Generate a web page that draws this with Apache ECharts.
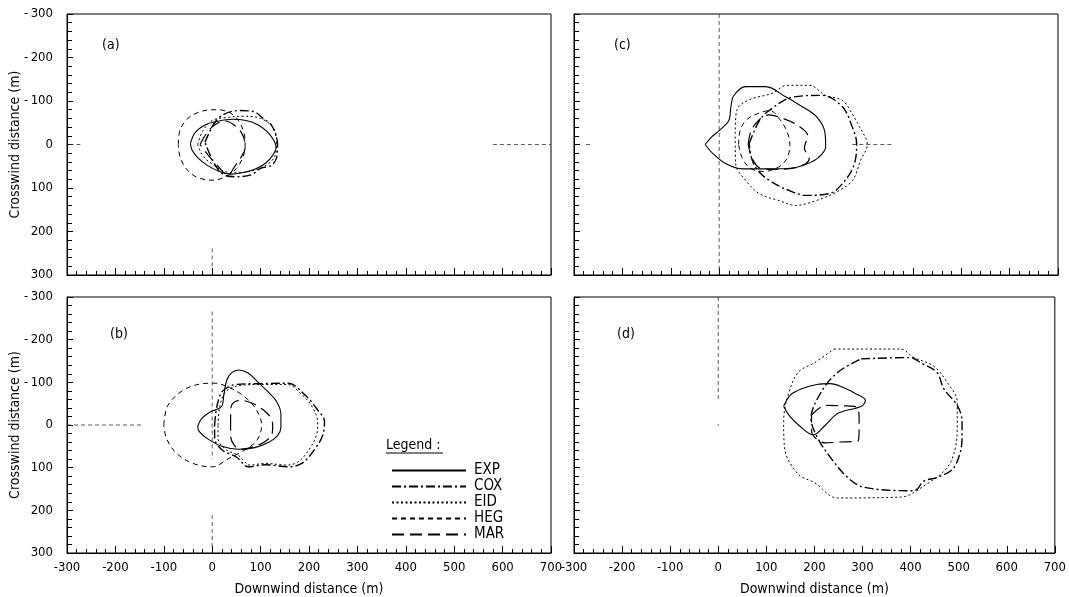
<!DOCTYPE html>
<html><head><meta charset="utf-8">
<script src="https://cdn.jsdelivr.net/npm/echarts@6/dist/echarts.min.js"></script>
<style>html,body{margin:0;padding:0;background:#fff}#c{width:1069px;height:597px}</style>
</head><body><div id="c"></div>
<script>
// ---- data (downwind x, crosswind y in metres) ----
const models = ['EXP', 'COX', 'EID', 'HEG', 'MAR'];
const panelLabels = ['(a)', '(b)', '(c)', '(d)'];
const xTickRange = [-300, 700];
const yTickRange = [-300, 300];

// panel (a)
const EXP_A = [[-45,-3],[-35,-28],[-15,-45],[6,-52],[41,-58],[70,-55],[95,-45],[115,-28],[127,-10],[132,5],[125,25],[110,43],[90,56],[70,63],[41,68],[15,62],[-10,48],[-30,30],[-42,12]];
const COX_A = [[-15,-5],[5,-50],[25,-70],[55,-78],[85,-76],[105,-60],[122,-45],[132,-20],[135,0],[133,30],[122,48],[100,55],[80,70],[50,74],[25,70],[5,45]];
const EID_A = [[-30,0],[-20,-30],[0,-55],[30,-62],[65,-65],[100,-60],[125,-40],[133,-10],[130,25],[115,45],[90,58],[55,65],[25,62],[0,45],[-20,25]];
const HEG_A = [[-70,0],[-66,-35],[-48,-62],[-20,-77],[10,-80],[38,-72],[56,-52],[66,-25],[68,0],[64,28],[50,55],[28,74],[0,82],[-30,76],[-52,58],[-66,30]];
const MAR_A = [[-25,0],[-12,-25],[5,-45],[28,-54],[45,-45],[60,-28],[67,-8],[68,8],[60,28],[48,48],[32,70],[12,50],[-8,25]];

// panel (b)
const EXP_B = [[-30,3],[-22,-15],[-5,-30],[19,-43],[24,-70],[30,-105],[40,-122],[54,-129],[74,-122],[95,-100],[115,-78],[133,-55],[142,-25],[142,5],[135,25],[118,40],[88,53],[54,57],[20,50],[-10,32],[-27,15]];
const COX_B = [[5,0],[10,-45],[22,-80],[50,-95],[100,-97],[157,-98],[192,-70],[216,-38],[232,-8],[228,25],[210,60],[185,90],[157,98],[110,93],[75,98],[50,75],[20,58],[5,30]];
const EID_B = [[12,0],[16,-45],[28,-78],[55,-92],[100,-95],[155,-95],[188,-68],[208,-40],[218,-5],[215,25],[200,58],[178,86],[155,94],[110,90],[78,94],[55,72],[25,55],[12,30]];
const HEG_B = [[-100,0],[-92,-45],[-62,-80],[-25,-96],[5,-98],[35,-88],[65,-68],[90,-38],[102,0],[93,35],[68,58],[35,78],[0,98],[-40,90],[-75,65],[-95,30]];
const MAR_B = [[38,3],[38,-30],[42,-50],[58,-58],[80,-52],[100,-40],[118,-22],[125,0],[124,20],[110,38],[88,50],[57,57],[44,45],[38,25]];

// panel (c)
const EXP_C = [[-29,0],[-15,-18],[0,-32],[20,-55],[24,-85],[30,-112],[55,-133],[96,-133],[138,-109],[170,-88],[200,-65],[218,-30],[220,6],[205,30],[180,45],[152,54],[100,56],[48,56],[15,45],[-12,22]];
const COX_C = [[62,-2],[83,-55],[103,-78],[152,-109],[213,-113],[255,-86],[275,-40],[284,-2],[277,52],[248,98],[227,113],[179,117],[145,106],[110,87],[83,64],[68,35]];
const EID_C = [[33,-25],[36,-78],[58,-101],[110,-118],[140,-136],[186,-136],[220,-113],[255,-101],[275,-70],[290,-40],[306,0],[292,37],[275,83],[241,110],[200,129],[158,140],[124,129],[83,113],[55,83],[34,44]];
const HEG_C = [[40,0],[44,-35],[58,-58],[82,-72],[105,-78],[125,-58],[140,-30],[146,0],[140,32],[122,52],[92,62],[65,55],[48,32]];
const MAR_C = [[60,0],[66,-32],[84,-58],[102,-68],[132,-60],[165,-42],[183,-20],[176,8],[186,32],[168,50],[122,57],[86,55],[68,32]];

// panel (d)
const EXP_D = [[136,-44],[150,-70],[174,-85],[205,-95],[233,-97],[260,-88],[285,-74],[306,-58],[298,-44],[250,-28],[223,0],[198,23],[167,0],[147,-23]];
const COX_D = [[297,-155],[400,-158],[421,-146],[455,-123],[469,-85],[497,-46],[507,-8],[507,31],[490,100],[455,123],[428,131],[407,154],[303,146],[269,123],[234,77],[207,31],[193,-15],[214,-77],[248,-123]];
const EID_D = [[241,-178],[379,-178],[407,-158],[448,-138],[476,-100],[497,-54],[497,0],[493,54],[476,100],[434,138],[379,169],[248,171],[200,135],[166,115],[138,54],[136,-8],[145,-69],[166,-123],[200,-146]];
const HEG_D = [];
const MAR_D = [[194,-23],[223,-46],[260,-45],[291,-39],[293,0],[291,37],[250,40],[223,42],[194,14]];

// reference axes (x = 0, y = 0) remnants in each panel
const REF_A = [[[-295,0],[-268,0]],[[580,0],[700,0]],[[0,239],[0,281]]];
const REF_B = [[[0,-266],[0,80]],[[0,211],[0,288]],[[-300,0],[-146,0]]];
const REF_C = [[[0,-300],[0,300]],[[-275,0],[-262,0]],[[275,0],[358,0]]];
const REF_D = [[[0,-300],[0,-58]],[[0,-2],[0,2]]];

const panelData = [
  {EXP:EXP_A, COX:COX_A, EID:EID_A, HEG:HEG_A, MAR:MAR_A, REF:REF_A},
  {EXP:EXP_B, COX:COX_B, EID:EID_B, HEG:HEG_B, MAR:MAR_B, REF:REF_B},
  {EXP:EXP_C, COX:COX_C, EID:EID_C, HEG:HEG_C, MAR:MAR_C, REF:REF_C},
  {EXP:EXP_D, COX:COX_D, EID:EID_D, HEG:HEG_D, MAR:MAR_D, REF:REF_D}
];

// ---- styling ----
const FONT = "'DejaVu Sans Condensed','Liberation Sans Narrow','Liberation Sans',sans-serif";
const lineStyles = {
  EXP: {type:'solid', width:1.1},
  COX: {type:[9,3,2,3], width:1.4},
  EID: {type:[2,2.5], width:1},
  HEG: {type:[5,4], width:1},
  MAR: {type:[12,6], width:1.2}
};
const grids = [
  {left:67, top:14, width:484, height:261},
  {left:67, top:297, width:484, height:260},
  {left:574, top:14, width:484, height:261},
  {left:574, top:297, width:484, height:260}
];
const isBottom = [false, true, false, true];
const isLeft = [true, true, false, false];

const chart = echarts.init(document.getElementById('c'), null, {renderer:'canvas'});
const close = a => a.length ? a.concat([a[0]]) : a;

const series = [];
panelData.forEach((p, i) => {
  models.forEach(m => {
    series.push({
      type:'line', name:m, xAxisIndex:i, yAxisIndex:i,
      data: close(p[m]), symbol:'none', smooth:0.35, silent:true,
      itemStyle:{color:'#000'},
      lineStyle: Object.assign({color:'#000'}, lineStyles[m])
    });
  });
  p.REF.forEach(seg => {
    series.push({
      type:'line', name:'ref', xAxisIndex:i, yAxisIndex:i, data:seg,
      symbol:'none', silent:true, lineStyle:{color:'#333', width:0.8, type:[4,3]}
    });
  });
});

const option = {
  animation:false,
  backgroundColor:'#fff',
  textStyle:{fontFamily:FONT},
  grid: grids.map(g => Object.assign({show:true, borderColor:'#000', borderWidth:1, backgroundColor:'transparent'}, g)),
  xAxis: grids.map((g, i) => ({
    gridIndex:i, type:'value', min:xTickRange[0], max:xTickRange[1], interval:100,
    axisLine:{show:true, onZero:false, lineStyle:{color:'#000', width:1}},
    axisTick:{show:true, inside:true, length:7, lineStyle:{color:'#000'}},
    minorTick:{show:true, splitNumber:5, length:4, lineStyle:{color:'#000'}},
    splitLine:{show:false}, minorSplitLine:{show:false},
    axisLabel:{show:isBottom[i], color:'#000', fontSize:13, fontFamily:FONT, margin:8},
    name: isBottom[i] ? 'Downwind distance (m)' : '',
    nameLocation:'middle', nameGap:29, nameMoveOverlap:false,
    nameTextStyle:{color:'#000', fontSize:14, fontFamily:FONT}
  })),
  yAxis: grids.map((g, i) => ({
    gridIndex:i, type:'value', min:yTickRange[0], max:yTickRange[1], interval:100, inverse:true,
    axisLine:{show:true, onZero:false, lineStyle:{color:'#000', width:1}},
    axisTick:{show:true, inside:true, length:6, lineStyle:{color:'#000'}},
    minorTick:{show:true, splitNumber:5, length:5, lineStyle:{color:'#000'}},
    splitLine:{show:false}, minorSplitLine:{show:false},
    axisLabel:{show:isLeft[i], color:'#000', fontSize:13, fontFamily:FONT, margin:14,
      formatter: v => v < 0 ? '-\u2009' + Math.abs(v) : String(v)},
    name: isLeft[i] ? 'Crosswind distance (m)' : '',
    nameLocation:'middle', nameGap:45, nameRotate:90, nameMoveOverlap:false,
    nameTextStyle:{color:'#000', fontSize:14, fontFamily:FONT}
  })),
  legend: {
    data: models, orient:'vertical', left:386, top:458,
    itemWidth:74, itemHeight:14, itemGap:1, selectedMode:false,
    itemStyle:{opacity:0},
    textStyle:{color:'#000', fontSize:15, fontFamily:FONT, padding:[0,0,0,3]}
  },
  graphic: [
    {type:'text', left:102, top:38, style:{text:panelLabels[0], font:'14px '+FONT, fill:'#000'}},
    {type:'text', left:110, top:327, style:{text:panelLabels[1], font:'14px '+FONT, fill:'#000'}},
    {type:'text', left:614, top:38, style:{text:panelLabels[2], font:'14px '+FONT, fill:'#000'}},
    {type:'text', left:617, top:327, style:{text:panelLabels[3], font:'14px '+FONT, fill:'#000'}},
    {type:'text', left:386, top:438, style:{text:'Legend :', font:'14px '+FONT, fill:'#000'}},
    {type:'line', shape:{x1:386, y1:453, x2:443, y2:453}, style:{stroke:'#000', lineWidth:1}}
  ],
  series: series
};
chart.setOption(option);
</script>
</body></html>
